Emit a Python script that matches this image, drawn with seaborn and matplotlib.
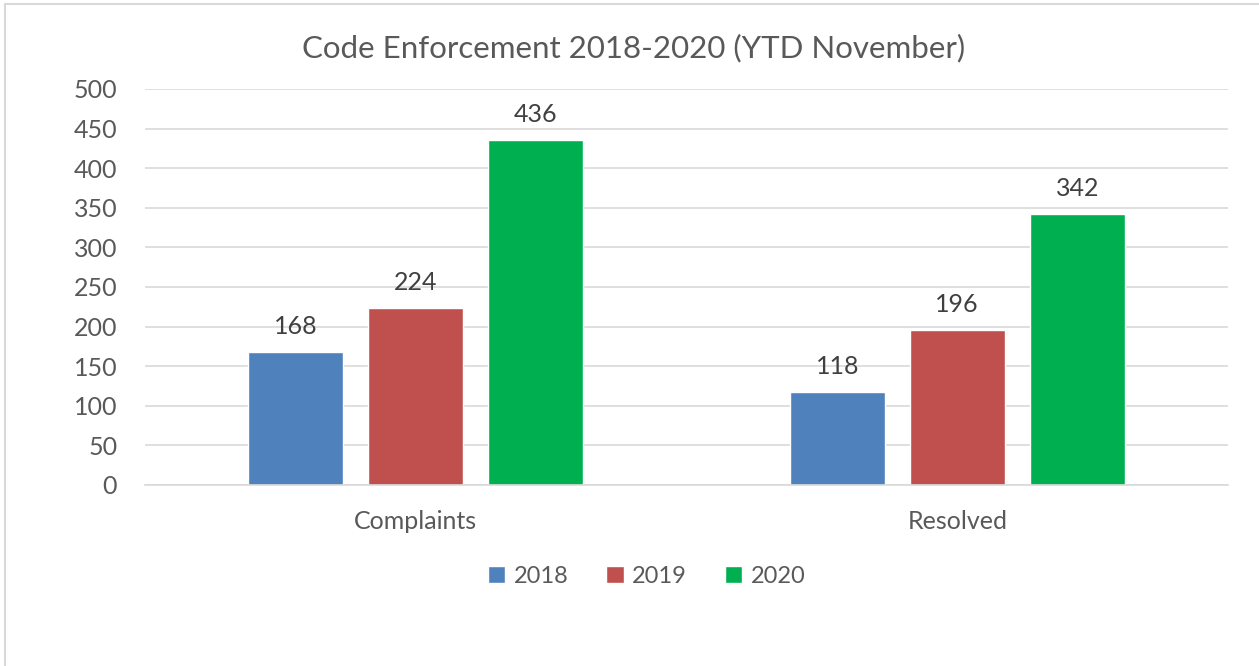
import matplotlib
matplotlib.use("Agg")
import matplotlib.pyplot as plt
import seaborn as sns
import pandas as pd

# Donnees
categories = ["Complaints", "Resolved"]
years = ["2018", "2019", "2020"]
values_2018 = [168, 118]
values_2019 = [224, 196]
values_2020 = [436, 342]
colors = ["#4f81bd", "#c0504d", "#00b050"]
text_color = "#595959"

rows = []
for year, vals in zip(years, [values_2018, values_2019, values_2020]):
    for cat, v in zip(categories, vals):
        rows.append({"Category": cat, "Year": year, "Value": v})
df = pd.DataFrame(rows)

sns.set_theme(style="white")
plt.rcParams["font.family"] = ["Lato", "DejaVu Sans"]

fig = plt.figure(figsize=(12.59, 6.66), dpi=100)
ax = fig.add_axes([145 / 1259, 1 - 485 / 666, 1083 / 1259, 396 / 666])

sns.barplot(data=df, x="Category", y="Value", hue="Year", palette=colors,
            saturation=1, width=0.665, gap=0.21, ax=ax, legend=True)

ax.set_ylim(0, 500)
ax.set_yticks(range(0, 501, 50))
ax.yaxis.grid(True, color="#d9d9d9", linewidth=1.2)
ax.set_axisbelow(True)
for side in ["top", "right", "left"]:
    ax.spines[side].set_visible(False)
ax.spines["bottom"].set_color("#d9d9d9")
ax.spines["bottom"].set_linewidth(1.2)
ax.tick_params(axis="both", length=0, labelsize=18, colors=text_color)
ax.tick_params(axis="y", pad=20)
ax.tick_params(axis="x", pad=18)
ax.set_xlabel("")
ax.set_ylabel("")

for container in ax.containers:
    ax.bar_label(container, fontsize=18, color="#404040", padding=10)

# Titre centre sur la figure
fig.text(634 / 1259, 1 - 48 / 666, "Code Enforcement 2018-2020 (YTD November)",
         fontsize=22.5, color=text_color, ha="center", va="center")

leg = ax.legend(loc="upper center", bbox_to_anchor=(0.463, -0.15), ncol=3,
                frameon=False, fontsize=17, handlelength=0.75, handleheight=0.75,
                handletextpad=0.35, columnspacing=1.6)
for t in leg.get_texts():
    t.set_color(text_color)

# Cadre du graphique
fig.add_artist(plt.Line2D([5 / 1259, 5 / 1259], [0, 1 - 4 / 666], color="#d9d9d9", lw=1.5))
fig.add_artist(plt.Line2D([5 / 1259, 1], [1 - 4 / 666, 1 - 4 / 666], color="#d9d9d9", lw=1.5))

fig.savefig("out.png", dpi=100)
